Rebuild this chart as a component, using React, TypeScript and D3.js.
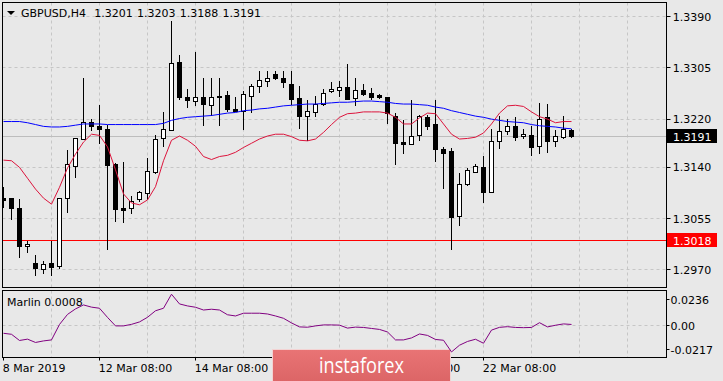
import React from 'react';
import * as d3 from 'd3';

const opens = [1.3089,1.3088,1.3072,1.3008,1.2980,1.2970,1.2980,1.2976,1.3089,1.3142,1.3186,1.3214,1.3207,1.3203,1.3145,1.3072,1.3071,1.3086,1.3096,1.3132,1.3187,1.3201,1.3313,1.3255,1.3249,1.3255,1.3242,1.3257,1.3259,1.3236,1.3233,1.3258,1.3274,1.3283,1.3294,1.3288,1.3278,1.3254,1.3224,1.3230,1.3244,1.3266,1.3268,1.3272,1.3254,1.3268,1.3263,1.3259,1.3255,1.3224,1.3181,1.3177,1.3192,1.3223,1.3211,1.3170,1.3166,1.3059,1.3111,1.3131,1.3139,1.3098,1.3182,1.3200,1.3208,1.3191,1.3193,1.3174,1.3222,1.3182,1.3189,1.3201];
const highs = [1.3107,1.3089,1.3087,1.3017,1.2994,1.2983,1.3017,1.3089,1.3168,1.3188,1.3288,1.3220,1.3242,1.3210,1.3146,1.3148,1.3092,1.3100,1.3155,1.3193,1.3231,1.3381,1.3325,1.3269,1.3331,1.3288,1.3287,1.3287,1.3266,1.3255,1.3265,1.3278,1.3299,1.3298,1.3299,1.3299,1.3299,1.3274,1.3251,1.3258,1.3269,1.3281,1.3282,1.3310,1.3287,1.3277,1.3270,1.3261,1.3256,1.3229,1.3218,1.3251,1.3226,1.3226,1.3251,1.3172,1.3171,1.3130,1.3138,1.3145,1.3158,1.3202,1.3224,1.3219,1.3222,1.3202,1.3207,1.3245,1.3244,1.3201,1.3224,1.3203];
const lows = [1.3072,1.3051,1.2988,1.2997,1.2959,1.2962,1.2959,1.2971,1.3063,1.3122,1.3185,1.3199,1.3178,1.3002,1.3049,1.3047,1.3061,1.3081,1.3085,1.3128,1.3173,1.3199,1.3251,1.3238,1.3240,1.3207,1.3224,1.3208,1.3231,1.3232,1.3201,1.3229,1.3262,1.3273,1.3284,1.3271,1.3242,1.3202,1.3183,1.3223,1.3241,1.3263,1.3255,1.3251,1.3240,1.3257,1.3251,1.3252,1.3211,1.3143,1.3162,1.3176,1.3183,1.3201,1.3148,1.3103,1.3002,1.3041,1.3108,1.3129,1.3080,1.3096,1.3169,1.3192,1.3182,1.3186,1.3158,1.3162,1.3163,1.3173,1.3186,1.3188];
const closes = [1.3085,1.3072,1.3008,1.3012,1.2972,1.2978,1.2974,1.3088,1.3144,1.3187,1.3215,1.3207,1.3203,1.3143,1.3070,1.3068,1.3084,1.3098,1.3133,1.3186,1.3202,1.3312,1.3256,1.3250,1.3255,1.3244,1.3255,1.3256,1.3235,1.3233,1.3260,1.3274,1.3284,1.3288,1.3288,1.3280,1.3252,1.3225,1.3232,1.3244,1.3263,1.3269,1.3273,1.3253,1.3268,1.3261,1.3256,1.3255,1.3229,1.3180,1.3178,1.3191,1.3224,1.3208,1.3170,1.3163,1.3057,1.3111,1.3134,1.3141,1.3099,1.3182,1.3200,1.3207,1.3189,1.3194,1.3173,1.3220,1.3182,1.3191,1.3202,1.3191];
const maSlow = [1.3215,1.3215,1.3215,1.3213,1.3210,1.3207,1.3206,1.3206,1.3207,1.3209,1.3211,1.3211,1.3211,1.3210,1.3210,1.3210,1.3210,1.3210,1.3210,1.3210,1.3212,1.3217,1.3220,1.3222,1.3223,1.3224,1.3225,1.3227,1.3229,1.3230,1.3233,1.3234,1.3236,1.3237,1.3239,1.3241,1.3242,1.3243,1.3244,1.3244,1.3245,1.3246,1.3247,1.3247,1.3248,1.3249,1.3249,1.3248,1.3247,1.3245,1.3244,1.3244,1.3243,1.3242,1.3239,1.3237,1.3233,1.3230,1.3227,1.3224,1.3222,1.3219,1.3217,1.3215,1.3214,1.3213,1.3210,1.3208,1.3207,1.3206,1.3204,1.3203];
const maFast = [1.3151,1.3150,1.3139,1.3121,1.3103,1.3088,1.3078,1.3106,1.3138,1.3161,1.3181,1.3194,1.3192,1.3173,1.3135,1.3095,1.3080,1.3077,1.3085,1.3107,1.3150,1.3184,1.3191,1.3184,1.3174,1.3157,1.3152,1.3157,1.3159,1.3164,1.3172,1.3179,1.3186,1.3191,1.3194,1.3194,1.3190,1.3184,1.3183,1.3186,1.3197,1.3210,1.3222,1.3228,1.3229,1.3231,1.3231,1.3231,1.3229,1.3222,1.3211,1.3211,1.3221,1.3229,1.3228,1.3211,1.3194,1.3186,1.3187,1.3189,1.3196,1.3211,1.3229,1.3241,1.3242,1.3240,1.3231,1.3223,1.3219,1.3213,1.3215,1.3215];
const marlin = [-0.0072,-0.0081,-0.0137,-0.0125,-0.0155,-0.0141,-0.0132,0.0008,0.0099,0.0149,0.0185,0.0165,0.0155,0.0072,-0.0005,-0.0005,0.0009,0.0031,0.0073,0.0132,0.0155,0.0282,0.0194,0.0176,0.0164,0.0139,0.0146,0.0139,0.0096,0.0085,0.0110,0.0110,0.0110,0.0103,0.0085,0.0064,0.0022,-0.0014,-0.0017,-0.0005,0.0004,0.0004,0.0002,-0.0025,-0.0016,-0.0019,-0.0028,-0.0037,-0.0060,-0.0132,-0.0132,-0.0114,-0.0078,-0.0091,-0.0128,-0.0135,-0.0241,-0.0180,-0.0146,-0.0126,-0.0162,-0.0043,-0.0018,-0.0012,-0.0019,-0.0021,-0.0019,0.0024,-0.0014,0.0001,0.0013,0.0008];

const priceTicks = [1.3390, 1.3305, 1.3220, 1.3140, 1.3055, 1.2970];
const marlinTicks = [0.0236, 0.0, -0.0217];
const marlinTickLabels = ['0.0236', '0.00', '-0.0217'];
const timeLabels = ['8 Mar 2019', '12 Mar 08:00', '14 Mar 08:00', '20 Mar 08:00', '22 Mar 08:00'];
const timeLabelBars = [0, 12, 24, 48, 60];
const timeTickBars = [0, 12, 24, 36, 48, 60];
const levelPrice = 1.3018;
const lastPrice = 1.3191;
const headerValues = ['1.3201', '1.3203', '1.3188', '1.3191'];
const marlinLast = '0.0008';

const FONT = '"DejaVu Sans", Tahoma, sans-serif';

export default function App() {
  const W = 723, H = 381;
  const L = 2.5, R = 666.5, T = 2.5, B = 287.5, ST = 290.5, SB = 357.5;
  const WMX = 272.5, WMW = 178;
  const x = d3.scaleLinear().domain([0, 1]).range([3.5, 11.5]);
  const y = d3.scaleLinear().domain([1.2970, 1.3390]).range([269.3, 16]);
  const ys = d3.scaleLinear().domain([-0.0217, 0.0236]).range([349.3, 299.3]);
  const snap = (v: number) => Math.round(v) + 0.5;
  const idx = d3.range(opens.length);
  const gridBars = d3.range(6, 80, 6);

  const lineMain = d3.line<number>().x((_, i) => x(i)).y((v) => y(v));
  const lineSub = d3.line<number>().x((_, i) => x(i)).y((v) => ys(v));

  const gridColor = '#c6c6c6';

  return (
    <div style={{ position: 'absolute', left: 0, top: 0 }}>
      <svg width={W} height={H} style={{ display: 'block' }} fontFamily={FONT}>
        <defs>
          <clipPath id="mainClip"><rect x={L} y={T} width={R - L} height={B - T} /></clipPath>
          <clipPath id="subClip"><rect x={L} y={ST} width={R - L} height={SB - ST} /></clipPath>
          <clipPath id="axisClip">
            <rect x={0} y={SB} width={WMX} height={H - SB} />
            <rect x={WMX + WMW + 0.5} y={SB} width={W - WMX - WMW} height={H - SB} />
          </clipPath>
          <linearGradient id="wm" x1="0" y1="0" x2="0" y2="1">
            <stop offset="0" stopColor="#e97475" />
            <stop offset="1" stopColor="#dc6566" />
          </linearGradient>
        </defs>
        <rect x={0} y={0} width={W} height={H} fill="#e8e8e8" />

        {/* grids */}
        <g stroke={gridColor} strokeWidth={1} strokeDasharray="3,3">
          {priceTicks.map((t) => (
            <line key={'h' + t} x1={L} x2={R} y1={snap(y(t))} y2={snap(y(t))} />
          ))}
          {gridBars.map((b) => (
            <line key={'v' + b} x1={x(b)} x2={x(b)} y1={T} y2={B} />
          ))}
          <line x1={L} x2={R} y1={snap(ys(0))} y2={snap(ys(0))} />
          {gridBars.map((b) => (
            <line key={'sv' + b} x1={x(b)} x2={x(b)} y1={ST} y2={SB} />
          ))}
        </g>

        <g clipPath="url(#mainClip)">
          <line x1={L} x2={R} y1={snap(y(lastPrice))} y2={snap(y(lastPrice))} stroke="#bdbdbd" strokeWidth={1} />
          <line x1={L} x2={R} y1={snap(y(levelPrice))} y2={snap(y(levelPrice))} stroke="#ff0000" strokeWidth={1} />
          {idx.map((i) => {
            const cx = x(i);
            const o = opens[i], c = closes[i];
            const top = Math.round(y(Math.max(o, c)));
            const bot = Math.round(y(Math.min(o, c)));
            const bull = c >= o;
            return (
              <g key={'c' + i}>
                <line x1={cx} x2={cx} y1={Math.round(y(highs[i]))} y2={Math.round(y(lows[i]))} stroke="#000" strokeWidth={1} />
                <rect x={cx - 2} y={top + 0.5} width={4} height={Math.max(bot - top, 1)}
                  fill={bull ? '#fff' : '#000'} stroke="#000" strokeWidth={1} />
              </g>
            );
          })}
          <path d={lineMain(maSlow) || ''} fill="none" stroke="#0000ff" strokeWidth={1} />
          <path d={lineMain(maFast) || ''} fill="none" stroke="#dc143c" strokeWidth={1} />
        </g>

        <rect x={L} y={T} width={R - L} height={B - T} fill="none" stroke="#000" strokeWidth={1} />
        <rect x={L} y={ST} width={R - L} height={SB - ST} fill="none" stroke="#000" strokeWidth={1} />

        {/* header */}
        <path d="M7,11 L15,11 L11,15 Z" fill="#000" />
        <text x={21} y={17.3} fontSize={11} fill="#000">GBPUSD,H4</text>
        {headerValues.map((v, i) => (
          <text key={'hv' + i} x={94.3 + i * 42.7} y={17.3} fontSize={11} fill="#000">{v}</text>
        ))}

        {/* right price axis */}
        {priceTicks.map((t) => (
          <g key={'pt' + t}>
            <line x1={R} x2={R + 4} y1={snap(y(t))} y2={snap(y(t))} stroke="#000" />
            <text x={672.7} y={y(t) + 4.6} fontSize={11} fill="#000">{t.toFixed(4)}</text>
          </g>
        ))}
        <rect x={667} y={Math.round(y(lastPrice)) - 7} width={50} height={14} fill="#000" />
        <text x={673} y={y(lastPrice) + 4.6} fontSize={11} fill="#fff">{lastPrice.toFixed(4)}</text>
        <rect x={667} y={Math.round(y(levelPrice)) - 7} width={50} height={14} fill="#ff0000" />
        <text x={673} y={y(levelPrice) + 4.6} fontSize={11} fill="#fff">{levelPrice.toFixed(4)}</text>

        {/* sub axis */}
        {marlinTicks.map((t, i) => (
          <g key={'mt' + i}>
            <line x1={R} x2={R + 3} y1={snap(ys(t))} y2={snap(ys(t))} stroke="#000" />
            <text x={670.5} y={ys(t) + 4.6} fontSize={11} fill="#000">{marlinTickLabels[i]}</text>
          </g>
        ))}
        <text x={7} y={305.5} fontSize={11} fill="#000">{'Marlin ' + marlinLast}</text>

        {/* time axis */}
        <g clipPath="url(#axisClip)">
          {timeTickBars.map((b) => (
            <line key={'tt' + b} x1={x(b)} x2={x(b)} y1={SB} y2={SB + 3} stroke="#000" />
          ))}
          {timeLabelBars.map((b, i) => (
            <text key={'tl' + b} x={x(b) - 0.8} y={372.3} fontSize={11} fill="#000">{timeLabels[i]}</text>
          ))}
        </g>

        {/* watermark */}
        <rect x={WMX} y={349.5} width={WMW} height={32} fill="url(#wm)" stroke="#f3d3d3" strokeWidth={1} />
        <text x={361.5} y={373} fontSize={22} fill="#fff" textAnchor="middle" fontFamily='"Open Sans", sans-serif'
          textLength={85} lengthAdjust="spacingAndGlyphs">instaforex</text>

        <g clipPath="url(#subClip)">
          <path d={lineSub(marlin) || ''} fill="none" stroke="#800080" strokeWidth={1} />
        </g>
      </svg>
    </div>
  );
}
